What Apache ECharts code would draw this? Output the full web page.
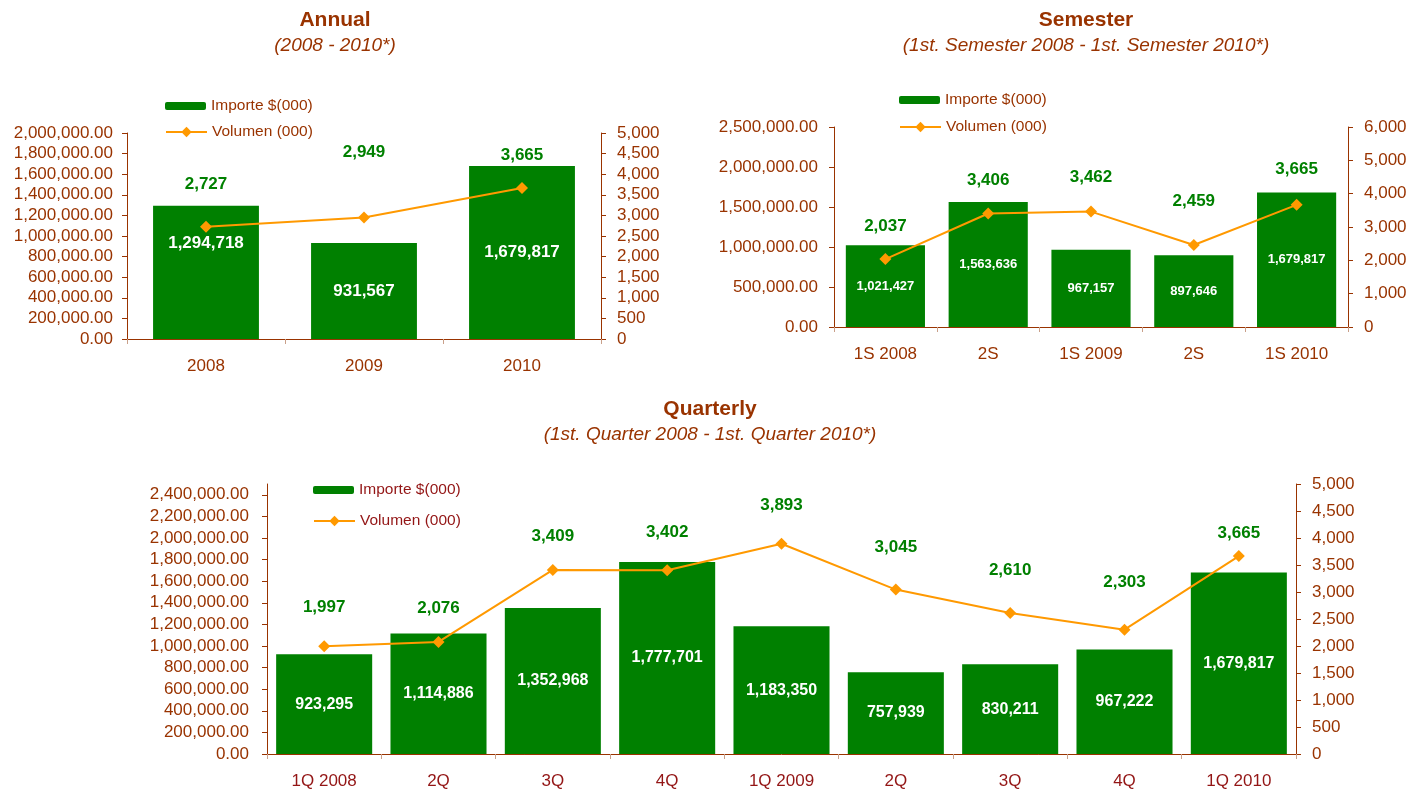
<!DOCTYPE html>
<html>
<head>
<meta charset="utf-8">
<script src="https://cdn.jsdelivr.net/npm/echarts@6/dist/echarts.min.js"></script>
<style>
html,body{margin:0;padding:0;background:#fff;}
#chart{width:1424px;height:791px;}
</style>
</head>
<body>
<div id="chart"></div>
<script>
// ---------- DATA ----------
var annualCats = ['2008', '2009', '2010'];
var annualImporte = [1294718, 931567, 1679817];
var annualVolumen = [2727, 2949, 3665];

var semCats = ['1S 2008', '2S', '1S 2009', '2S', '1S 2010'];
var semImporte = [1021427, 1563636, 967157, 897646, 1679817];
var semVolumen = [2037, 3406, 3462, 2459, 3665];

var qCats = ['1Q 2008', '2Q', '3Q', '4Q', '1Q 2009', '2Q', '3Q', '4Q', '1Q 2010'];
var qImporte = [923295, 1114886, 1352968, 1777701, 1183350, 757939, 830211, 967222, 1679817];
var qVolumen = [1997, 2076, 3409, 3402, 3893, 3045, 2610, 2303, 3665];

var barName = 'Importe $(000)';
var lineName = 'Volumen (000)';

// ---------- STYLE ----------
var FONT = '"Liberation Sans", Arial, sans-serif';
var BROWN = '#993300';
var MAROON = '#931515';
var GREEN = '#008000';
var ORANGE = '#FF9900';

// label placement tweaks (pixels above the marker) – styling only
var annualVolOffsets = [42, 65, 33];
var semVolOffsets = [33, 33, 34, 44, 36];
var qVolOffsets = [39, 34, 34, 38, 38, 42, 43, 47, 23];
var annualBarOffsets = [-29, 0, 0];

function fmt2(v) {
  return Number(v).toLocaleString('en-US', {minimumFractionDigits: 2, maximumFractionDigits: 2});
}
function fmt0(v) {
  return Number(v).toLocaleString('en-US', {maximumFractionDigits: 0});
}

var grids = [], xAxes = [], yAxes = [], series = [], legends = [], graphics = [];

function addChart(cfg) {
  var gi = grids.length;
  grids.push({left: cfg.left, top: cfg.top, width: cfg.width, height: cfg.height, containLabel: false});
  xAxes.push({
    type: 'category', gridIndex: gi, data: cfg.cats,
    axisLine: {lineStyle: {color: BROWN, width: 1}},
    axisTick: {show: true, length: 5, lineStyle: {color: '#c9a08a'}},
    axisLabel: {color: cfg.catColor, fontSize: 17, fontFamily: FONT, margin: 19, interval: 0}
  });
  var yl = yAxes.length;
  yAxes.push({
    type: 'value', gridIndex: gi, position: 'left', min: 0, max: cfg.lMax, interval: cfg.lInt,
    axisLine: {show: true, lineStyle: {color: BROWN}},
    axisTick: {show: true, length: 5, lineStyle: {color: BROWN}},
    splitLine: {show: false},
    axisLabel: {color: BROWN, fontSize: 17, fontFamily: FONT, margin: cfg.lMargin, formatter: fmt2, showMaxLabel: cfg.showMaxL}
  });
  var yr = yAxes.length;
  yAxes.push({
    type: 'value', gridIndex: gi, position: 'right', min: 0, max: cfg.rMax, interval: cfg.rInt,
    axisLine: {show: true, lineStyle: {color: BROWN}},
    axisTick: {show: true, length: 5, lineStyle: {color: BROWN}},
    splitLine: {show: false},
    axisLabel: {color: BROWN, fontSize: 17, fontFamily: FONT, margin: cfg.rMargin, formatter: fmt0}
  });
  series.push({
    type: 'bar', name: barName, xAxisIndex: gi, yAxisIndex: yl,
    barCategoryGap: cfg.gap,
    itemStyle: {color: GREEN},
    data: cfg.bars.map(function (v, i) {
      var o = cfg.barOffsets ? cfg.barOffsets[i] : 0;
      return {value: v, label: {offset: [0, o]}};
    }),
    label: {
      show: true, position: 'inside', color: '#fff', fontWeight: 'bold',
      fontSize: cfg.barFont, fontFamily: FONT, formatter: function (p) { return fmt0(p.value); }
    },
    z: 2
  });
  series.push({
    type: 'line', name: lineName, xAxisIndex: gi, yAxisIndex: yr,
    symbol: 'diamond', symbolSize: 12,
    lineStyle: {color: ORANGE, width: 2},
    itemStyle: {color: ORANGE},
    data: cfg.line.map(function (v, i) {
      return {value: v, label: {offset: [0, -cfg.lineOffsets[i]]}};
    }),
    label: {
      show: true, position: 'inside', color: GREEN, fontWeight: 'bold',
      fontSize: 17, fontFamily: FONT, formatter: function (p) { return fmt0(p.value); }
    },
    z: 3
  });
  legends.push({
    data: [barName], left: cfg.legLeft, top: cfg.legTop1, padding: 0, orient: 'vertical',
    itemWidth: 41, itemHeight: 8, selectedMode: false,
    textStyle: {color: cfg.legColor, fontSize: 15.5, fontFamily: FONT}
  });
  legends.push({
    data: [lineName], left: cfg.legLeft, top: cfg.legTop2, padding: 0, orient: 'vertical',
    itemWidth: 41, itemHeight: 13, selectedMode: false,
    textStyle: {color: cfg.legColor, fontSize: 15.5, fontFamily: FONT}
  });
  graphics.push({
    type: 'text', x: cfg.titleX, y: cfg.titleY,
    style: {text: cfg.title, fill: BROWN, font: 'bold 21px ' + FONT, textAlign: 'center', textVerticalAlign: 'middle'}
  });
  graphics.push({
    type: 'text', x: cfg.titleX, y: cfg.titleY + 26,
    style: {text: cfg.subtitle, fill: BROWN, font: 'italic 19px ' + FONT, textAlign: 'center', textVerticalAlign: 'middle'}
  });
}

addChart({
  cats: annualCats, bars: annualImporte, line: annualVolumen,
  left: 127, top: 133, width: 474, height: 206,
  lMax: 2000000, lInt: 200000, rMax: 5000, rInt: 500, showMaxL: true,
  lMargin: 14, rMargin: 16, gap: '33%', barFont: 17, barOffsets: annualBarOffsets,
  lineOffsets: annualVolOffsets, catColor: BROWN, legColor: BROWN,
  legLeft: 165, legTop1: 98, legTop2: 124,
  title: 'Annual', subtitle: '(2008 - 2010*)', titleX: 335, titleY: 20
});

addChart({
  cats: semCats, bars: semImporte, line: semVolumen,
  left: 834, top: 127, width: 514, height: 200,
  lMax: 2500000, lInt: 500000, rMax: 6000, rInt: 1000, showMaxL: true,
  lMargin: 16, rMargin: 16, gap: '23%', barFont: 13,
  lineOffsets: semVolOffsets, catColor: BROWN, legColor: BROWN,
  legLeft: 899, legTop1: 92, legTop2: 119,
  title: 'Semester', subtitle: '(1st. Semester 2008 - 1st. Semester 2010*)', titleX: 1086, titleY: 20
});

addChart({
  cats: qCats, bars: qImporte, line: qVolumen,
  left: 267, top: 484, width: 1029, height: 270,
  lMax: 2500000, lInt: 200000, rMax: 5000, rInt: 500, showMaxL: false,
  lMargin: 18, rMargin: 16, gap: '16%', barFont: 16,
  lineOffsets: qVolOffsets, catColor: MAROON, legColor: MAROON,
  legLeft: 313, legTop1: 482, legTop2: 513,
  title: 'Quarterly', subtitle: '(1st. Quarter 2008 - 1st. Quarter 2010*)', titleX: 710, titleY: 409
});

var chart = echarts.init(document.getElementById('chart'), null, {renderer: 'canvas'});
chart.setOption({
  animation: false,
  backgroundColor: '#fff',
  textStyle: {fontFamily: FONT},
  grid: grids, xAxis: xAxes, yAxis: yAxes, series: series, legend: legends,
  graphic: graphics
});
</script>
</body>
</html>
